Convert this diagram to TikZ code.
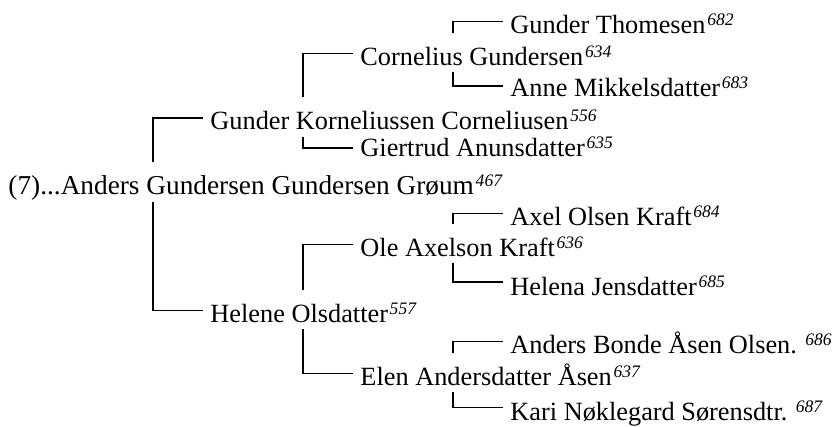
\documentclass[tikz,border=0pt]{standalone}
\usepackage{fontspec}
\setmainfont{Liberation Serif}
\usetikzlibrary{calc}
\newcommand{\refno}[1]{\kern0.8pt\raisebox{3.6pt}{\fontsize{8}{9}\selectfont\itshape #1}}

\begin{document}
\begin{tikzpicture}[x=0.456pt, y=-0.456pt,
    person/.style={anchor=base west, inner sep=0pt, font=\fontsize{12}{14}\selectfont},
    link/.style={line width=0.7pt}
  ]
    \useasboundingbox (0,0) rectangle (834,426);

    % Proband
    \node[person, font=\fontsize{12.45}{14}\selectfont] (p) at (8,194.5)
      {(7)...Anders Gundersen Gundersen Grøum\refno{467}};

    % Parents
    \node[person] (f) at (210,129.5) {Gunder Korneliussen Corneliusen\refno{556}};
    \node[person] (m) at (210,322)   {Helene Olsdatter\refno{557}};

    % Grandparents
    \node[person] (ff) at (360,65)  {Cornelius Gundersen\refno{634}};
    \node[person] (fm) at (360,156) {Giertrud Anunsdatter\refno{635}};
    \node[person] (mf) at (360,256) {Ole Axelson Kraft\refno{636}};
    \node[person] (mm) at (360,385) {Elen Andersdatter Åsen\refno{637}};

    % Great-grandparents
    \node[person] (fff) at (510,33)  {Gunder Thomesen\refno{682}};
    \node[person] (ffm) at (510,96)  {Anne Mikkelsdatter\refno{683}};
    \node[person] (mff) at (510,225) {Axel Olsen Kraft\refno{684}};
    \node[person] (mfm) at (510,295) {Helena Jensdatter\refno{685}};
    \node[person] (mmf) at (510,353) {Anders Bonde Åsen Olsen.\ \refno{686}};
    \node[person] (mmm) at (510,420) {Kari Nøklegard Sørensdtr.\ \refno{687}};

    % Father -> child (down), mother -> child (up)
    \draw[link] ([shift={(-3.2pt,5.3pt)}]f.base west) -| ($(f.base west |- p.base)+(-26pt,14.6pt)$);
    \draw[link] ($(m.base west |- p.base)+(-26pt,-3.2pt)$) |- ([shift={(-3.2pt,5.3pt)}]m.base west);

    \draw[link] ([shift={(-3.2pt,5.3pt)}]ff.base west) -| ($(ff.base west |- f.base)+(-26pt,14.6pt)$);
    \draw[link] ($(fm.base west |- f.base)+(-26pt,-3.2pt)$) |- ([shift={(-3.2pt,3.6pt)}]fm.base west);
    \draw[link] ([shift={(-3.2pt,5.3pt)}]mf.base west) -| ($(mf.base west |- m.base)+(-26pt,14.6pt)$);
    \draw[link] ($(mm.base west |- m.base)+(-26pt,-3.2pt)$) |- ([shift={(-3.2pt,5.3pt)}]mm.base west);

    \draw[link] ([shift={(-3.2pt,5.3pt)}]fff.base west) -| ($(fff.base west |- ff.base)+(-26pt,14.6pt)$);
    \draw[link] ($(ffm.base west |- ff.base)+(-26pt,-3.2pt)$) |- ([shift={(-3.2pt,4.6pt)}]ffm.base west);
    \draw[link] ([shift={(-3.2pt,5.3pt)}]mff.base west) -| ($(mff.base west |- mf.base)+(-26pt,14.6pt)$);
    \draw[link] ($(mfm.base west |- mf.base)+(-26pt,-3.2pt)$) |- ([shift={(-3.2pt,5.9pt)}]mfm.base west);
    \draw[link] ([shift={(-3.2pt,5.3pt)}]mmf.base west) -| ($(mmf.base west |- mm.base)+(-26pt,14.6pt)$);
    \draw[link] ($(mmm.base west |- mm.base)+(-26pt,-3.2pt)$) |- ([shift={(-3.2pt,5.7pt)}]mmm.base west);
\end{tikzpicture}
\end{document}
